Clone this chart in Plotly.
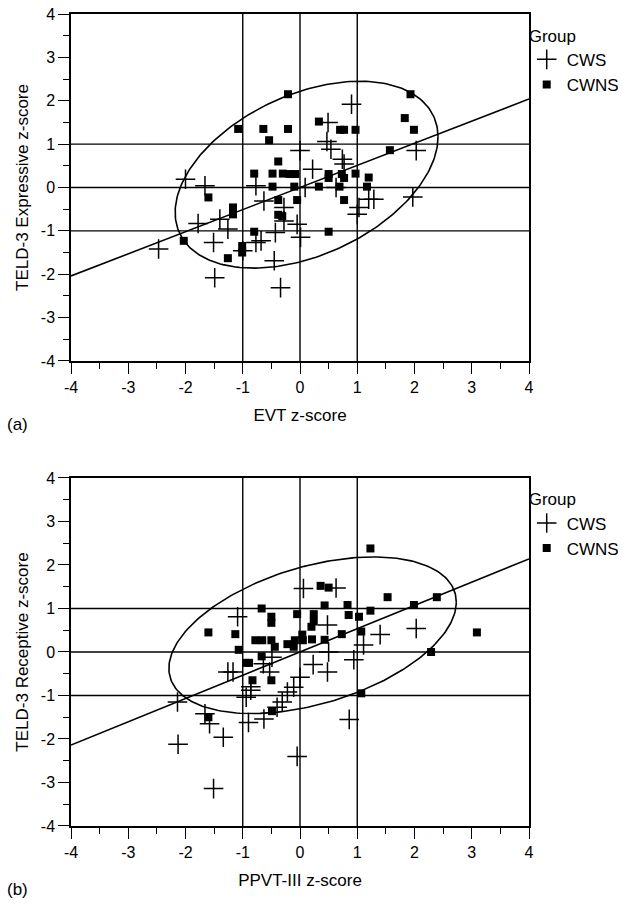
import numpy as np
import plotly.graph_objects as go

# ---------------- data ----------------
# Panel (a): EVT z-score (x) vs TELD-3 Expressive z-score (y)
a_cws_x = [-2.00, -1.66, -1.78, -1.40, -1.26, -1.51, -2.47, -1.49, -1.00, -0.77, -0.63, -0.28,
           -0.28, -0.05, -0.43, -0.68, -0.77, 0.01, -0.45, -0.34, 0.00, 0.22, 0.09, 0.47,
           0.90, 0.49, 0.54, 0.74, 0.77, 0.63, 1.20, 1.29, 1.03, 1.00, 2.03, 1.97]
a_cws_y = [0.19, 0.04, -0.83, -0.73, -0.96, -1.27, -1.42, -2.08, -1.46, 0.04, -0.31, -0.46,
           -0.77, -0.85, -1.04, -1.23, -1.27, -1.15, -1.69, -2.31, 0.85, 0.42, 0.00, 1.06,
           1.92, 1.50, 0.88, 0.65, 0.54, 0.00, -0.27, -0.27, -0.46, -0.62, 0.85, -0.22]
a_cwns_x = [-0.21, -1.08, -0.64, -0.21, -0.54, 0.33, -0.38, -0.80, -0.48, -0.30, -0.18, -0.08,
            -0.48, -0.10, -0.05, -0.38, 0.33, 0.50, 0.50, 0.73, 0.77, 0.97, 0.69, 1.20,
            1.17, 0.77, 0.50, -1.60, -1.17, -1.17, -0.38, -0.31, -0.80, -2.03, -1.01, -1.01,
            -1.26, 1.93, 1.83, 1.99, 1.57, 0.70, 0.77, 0.97]
a_cwns_y = [2.15, 1.35, 1.35, 1.35, 1.09, 1.52, 0.60, 0.32, 0.32, 0.32, 0.31, 0.31,
            0.02, 0.02, -0.29, -0.29, 0.02, 0.31, 0.22, 0.31, 0.22, 0.32, 0.02, 0.23,
            0.02, -0.29, -1.02, -0.23, -0.46, -0.62, -0.63, -0.66, -1.02, -1.23, -1.35, -1.50,
            -1.63, 2.15, 1.60, 1.33, 0.86, 1.33, 1.33, 1.33]

# Panel (b): PPVT-III z-score (x) vs TELD-3 Receptive z-score (y)
b_cws_x = [0.06, 0.63, -1.09, 0.48, 0.50, 0.23, 0.48, -1.26, -1.17, -0.53, -0.64, -0.49,
           -0.86, -0.94, -0.86, -0.11, -0.22, -0.31, -0.40, -0.63, -0.90, -1.34, -2.14, -1.66,
           -1.58, -2.13, 0.00, 1.40, 2.03, 1.11, 0.94, 0.86, -1.51, -0.05]
b_cws_y = [1.46, 1.47, 0.81, 0.62, 0.00, -0.29, -0.46, -0.46, -0.46, -0.46, -0.27, -0.12,
           -0.80, -1.04, -0.88, -0.81, -0.92, -1.15, -1.27, -1.54, -1.62, -1.96, -1.15, -1.42,
           -1.65, -2.12, -0.58, 0.40, 0.54, 0.16, -0.18, -1.55, -3.14, -2.40]
b_cwns_x = [0.36, 0.50, 0.43, 0.24, 0.24, 0.20, 0.04, 0.05, 0.21, 0.43,
            -0.67, -0.50, -0.50, -1.60, -1.13, -0.05, -0.78, -0.66, -0.50, -0.44, -0.22, -0.11,
            -0.09, -1.07, -0.67, -0.94, -0.89, -0.83, -0.50, -1.60, -0.49,
            1.23, 1.53, 1.99, 2.39, 3.09, 2.29, 1.07, 0.83, 0.85, 1.03, 1.23, 0.73, 1.07]
b_cwns_y = [1.52, 1.48, 1.07, 0.87, 0.70, 0.58, 0.40, 0.27, 0.29, 0.28,
            1.00, 0.81, 0.67, 0.45, 0.41, 0.87, 0.27, 0.27, 0.27, 0.12, 0.18, 0.12,
            0.27, 0.05, -0.10, -0.25, -0.25, -0.65, -0.65, -1.50, -1.36,
            2.38, 1.26, 1.08, 1.26, 0.45, 0.00, -0.95, 1.08, 0.85, 0.81, 0.95, 0.41, 0.47]

# regression lines (intercept, slope) and ellipses (center, covariance-like matrix)
a_fit = (0.0, 0.51)
b_fit = (0.0, 0.535)
a_ell_center = (0.115, 0.295)
a_ell_matrix = [[5.27, 2.0], [2.0, 4.64]]
b_ell_center = (0.22, 0.385)
b_ell_matrix = [[6.30, 1.91], [1.91, 3.24]]

AXIS_RANGE = [-4, 4]
TICKS = [-4, -3, -2, -1, 0, 1, 2, 3, 4]
TICK_TEXT = ["-4", "-3", "-2", "-1", "0", "1", "2", "3", "4"]
REF_LINES = [-1, 0, 1]

FONT = "Liberation Sans, Arial, Helvetica, sans-serif"
INK = "black"


def ellipse(center, m, n=240):
    L = np.linalg.cholesky(np.array(m))
    t = np.linspace(0, 2 * np.pi, n)
    pts = L @ np.vstack([np.cos(t), np.sin(t)])
    return pts[0] + center[0], pts[1] + center[1]


fig = go.Figure()


def add_panel(xa, ya, cws_x, cws_y, cwns_x, cwns_y, fit, ell_c, ell_m, legend):
    xs = np.linspace(AXIS_RANGE[0], AXIS_RANGE[1], 50)
    fig.add_trace(go.Scatter(x=xs, y=fit[0] + fit[1] * xs, mode="lines",
                             line=dict(color=INK, width=1.6), xaxis=xa, yaxis=ya,
                             showlegend=False, hoverinfo="skip"))
    ex, ey = ellipse(ell_c, ell_m)
    fig.add_trace(go.Scatter(x=ex, y=ey, mode="lines", line=dict(color=INK, width=1.6),
                             xaxis=xa, yaxis=ya, showlegend=False, hoverinfo="skip"))
    fig.add_trace(go.Scatter(x=cws_x, y=cws_y, mode="markers", name="CWS",
                             marker=dict(symbol="cross-thin", size=14, color=INK,
                                         line=dict(color=INK, width=1.5)),
                             xaxis=xa, yaxis=ya, legend=legend))
    fig.add_trace(go.Scatter(x=cwns_x, y=cwns_y, mode="markers", name="CWNS",
                             marker=dict(symbol="square", size=8, color=INK,
                                         line=dict(width=0)),
                             xaxis=xa, yaxis=ya, legend=legend))
    for v in REF_LINES:
        fig.add_shape(type="line", xref=xa, yref=f"{ya} domain", x0=v, x1=v, y0=0, y1=1,
                      line=dict(color=INK, width=1.4))
        fig.add_shape(type="line", xref=f"{xa} domain", yref=ya, x0=0, x1=1, y0=v, y1=v,
                      line=dict(color=INK, width=1.4))


add_panel("x", "y", a_cws_x, a_cws_y, a_cwns_x, a_cwns_y, a_fit, a_ell_center, a_ell_matrix, "legend")
add_panel("x2", "y2", b_cws_x, b_cws_y, b_cwns_x, b_cwns_y, b_fit, b_ell_center, b_ell_matrix, "legend2")


def axis(title, domain=None, anchor=None, standoff=12):
    d = dict(range=AXIS_RANGE, tickvals=TICKS, ticktext=TICK_TEXT, ticks="outside",
             ticklen=11, tickwidth=1.4, tickcolor=INK, showline=True, linecolor=INK,
             linewidth=1.5, mirror=True, showgrid=False, zeroline=False,
             minor=dict(dtick=0.5, ticks="outside", ticklen=6, tickwidth=1.4,
                        tickcolor=INK, showgrid=False),
             tickfont=dict(family=FONT, size=16, color=INK),
             title=dict(text=title, font=dict(family=FONT, size=17, color=INK),
                        standoff=standoff),
             automargin=False, fixedrange=True)
    if domain is not None:
        d["domain"] = domain
    if anchor is not None:
        d["anchor"] = anchor
    return d


legend_common = dict(
    title=dict(text="Group", font=dict(family=FONT, size=17, color=INK)),
    font=dict(family=FONT, size=17, color=INK), bgcolor="rgba(0,0,0,0)",
    xanchor="left", yanchor="top", x=0.995, tracegroupgap=0, itemwidth=30,
)

fig.update_layout(
    width=636, height=908,
    margin=dict(l=71, r=104, t=14, b=82),
    paper_bgcolor="white", plot_bgcolor="white",
    font=dict(family=FONT, color=INK),
    xaxis=axis("EVT z-score", anchor="y", standoff=14),
    yaxis=axis("TELD-3 Expressive z-score", domain=[0.5727, 1.0], anchor="x", standoff=8),
    xaxis2=axis("PPVT-III z-score", anchor="y2", standoff=14),
    yaxis2=axis("TELD-3 Receptive z-score", domain=[0.0, 0.4286], anchor="x2", standoff=8),
    legend=dict(legend_common, y=0.993),
    legend2=dict(legend_common, y=0.422),
    annotations=[
        dict(text="(a)", xref="paper", yref="paper", x=-0.145, y=0.494, xanchor="left",
             yanchor="middle", showarrow=False, font=dict(family=FONT, size=17, color=INK)),
        dict(text="(b)", xref="paper", yref="paper", x=-0.145, y=-0.078, xanchor="left",
             yanchor="middle", showarrow=False, font=dict(family=FONT, size=17, color=INK)),
    ],
)

fig.write_html("out.html")
